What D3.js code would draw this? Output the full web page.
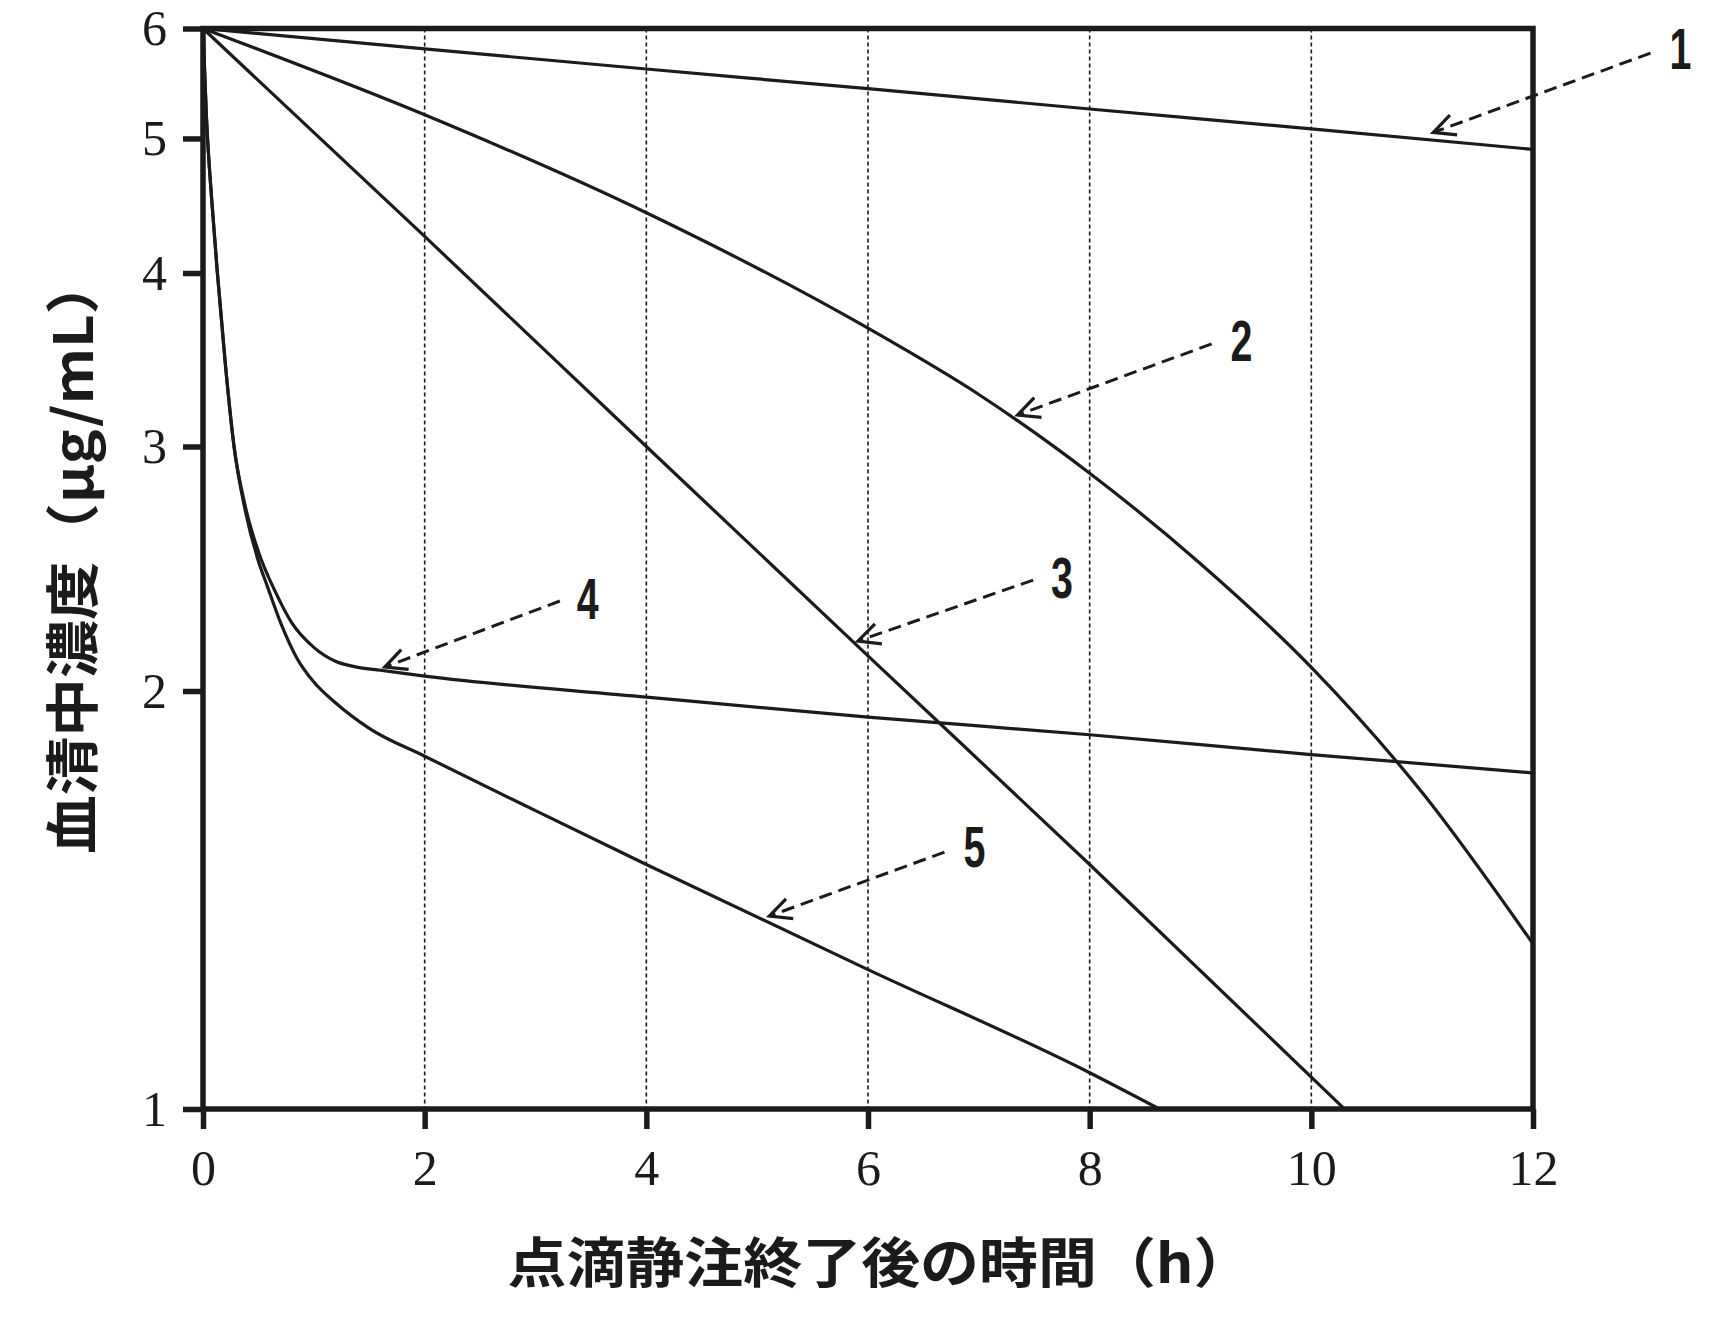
<!DOCTYPE html>
<html><head><meta charset="utf-8">
<script src="https://cdn.jsdelivr.net/npm/d3@7/dist/d3.min.js"></script>
<style>body{margin:0;background:#fff}</style>
</head><body><svg id="chart" width="1712" height="1320"></svg>
<script>
// ---- data (time h, concentration µg/mL) ----
const xTicks = [0, 2, 4, 6, 8, 10, 12];
const yTicks = [1, 2, 3, 4, 5, 6];
const gridTimes = [2, 4, 6, 8, 10];

const curve1T = [0, 2, 4, 6, 8, 10, 12];
const curve1C = [6, 5.80, 5.61, 5.43, 5.25, 5.08, 4.91];

const curve2T = [0, 2, 4, 6, 7, 8, 9, 10, 11, 12];
const curve2C = [6, 5.20, 4.42, 3.65, 3.27, 2.87, 2.47, 2.08, 1.69, 1.315];

const curve3T = [0, 2, 4, 6, 8, 10.3];
const curve3C = [6, 4.25, 3.00, 2.12, 1.50, 1.0];

const curve4T = [0, 0.03, 0.08, 0.13, 0.2, 0.28, 0.38, 0.5, 0.65, 0.8, 1.0, 1.2, 1.4, 1.6, 2, 4, 6, 8, 10, 12];
const curve4C = [6, 5.2, 4.5, 4.0, 3.45, 3.0, 2.72, 2.52, 2.36, 2.24, 2.15, 2.10, 2.08, 2.07, 2.05, 1.98, 1.915, 1.86, 1.80, 1.746];

const curve5T = [0, 0.03, 0.08, 0.13, 0.2, 0.28, 0.38, 0.5, 0.58, 0.7, 0.85, 1.0, 1.2, 1.5, 2, 3, 4, 6, 8, 8.63];
const curve5C = [6, 5.2, 4.5, 4.0, 3.45, 3.0, 2.7, 2.48, 2.38, 2.24, 2.11, 2.03, 1.96, 1.88, 1.795, 1.64, 1.50, 1.26, 1.062, 1.0];

// annotation labels (data coordinates)
const labelText = ["1", "2", "3", "4", "5"];
const labelT = [13.33, 9.37, 7.75, 3.47, 6.96];
const labelC = [5.81, 3.58, 2.416, 2.334, 1.547];
const tailT = [13.06, 9.10, 7.49, 3.22, 6.69];
const tailC = [5.76, 3.556, 2.404, 2.322, 1.531];
const tipT = [11.10, 7.35, 5.91, 1.64, 5.11];
const tipC = [5.05, 3.161, 2.173, 2.081, 1.377];

const xTitle = "点滴静注終了後の時間（h）";
const yTitle = "血清中濃度（μg/mL）";

// ---- drawing ----
const svg = d3.select("#chart");
svg.append("rect").attr("width", 1712).attr("height", 1320).attr("fill", "#fff");

const x = d3.scaleLinear().domain([0, 12]).range([203, 1533]);
const y = d3.scaleLog().domain([1, 6]).range([1109, 28.5]);
const ink = "#1b1b1b";

// dotted grid lines
svg.append("g").selectAll("line").data(gridTimes).join("line")
  .attr("x1", d => x(d)).attr("x2", d => x(d))
  .attr("y1", y(6)).attr("y2", y(1))
  .attr("stroke", ink).attr("stroke-width", 1.6).attr("stroke-dasharray", "4,3");

// curves
const series = [
  [curve1T, curve1C], [curve2T, curve2C], [curve3T, curve3C],
  [curve4T, curve4C], [curve5T, curve5C]
];
const line = d3.line().x(d => x(d[0])).y(d => y(d[1])).curve(d3.curveMonotoneX);
svg.append("g").selectAll("path").data(series).join("path")
  .attr("d", s => line(s[0].map((t, i) => [t, s[1][i]])))
  .attr("fill", "none").attr("stroke", ink).attr("stroke-width", 3.2)
  .attr("stroke-linejoin", "round");

// frame
svg.append("rect").attr("x", x(0)).attr("y", y(6))
  .attr("width", x(12) - x(0)).attr("height", y(1) - y(6))
  .attr("fill", "none").attr("stroke", ink).attr("stroke-width", 5.5);

// axes
const gx = svg.append("g").attr("transform", `translate(0,${y(1)})`)
  .call(d3.axisBottom(x).tickValues(xTicks).tickSize(20).tickPadding(20).tickFormat(d3.format("d")));
const gy = svg.append("g").attr("transform", `translate(${x(0)},0)`)
  .call(d3.axisLeft(y).tickValues(yTicks).tickSize(20).tickPadding(16).tickFormat(d3.format("d")));
[gx, gy].forEach(g => {
  g.select(".domain").remove();
  g.selectAll(".tick line").attr("stroke", ink).attr("stroke-width", 5.5);
  g.selectAll(".tick text").attr("fill", ink)
    .style("font-family", "'Liberation Serif', 'DejaVu Serif', serif").style("font-size", "50px");
});

// axis titles
svg.append("text").text(xTitle)
  .attr("x", 880).attr("y", 1283)
  .attr("text-anchor", "middle")
  .attr("textLength", 745).attr("lengthAdjust", "spacingAndGlyphs")
  .style("font-family", "'Noto Sans CJK JP', sans-serif").style("font-weight", 700)
  .style("font-size", "54px").attr("fill", ink);

svg.append("text").text(yTitle)
  .attr("transform", `translate(93,${(y(1) + y(6)) / 2 - 14}) rotate(-90)`)
  .attr("text-anchor", "middle")
  .attr("textLength", 598).attr("lengthAdjust", "spacingAndGlyphs")
  .style("font-family", "'Noto Sans CJK JP', sans-serif").style("font-weight", 700)
  .style("font-size", "54px").attr("fill", ink);

// annotations
const ann = svg.append("g");
labelText.forEach((lab, i) => {
  const x1 = x(tailT[i]), y1 = y(tailC[i]), x2 = x(tipT[i]), y2 = y(tipC[i]);
  ann.append("line").attr("x1", x1).attr("y1", y1).attr("x2", x2).attr("y2", y2)
    .attr("stroke", ink).attr("stroke-width", 3).attr("stroke-dasharray", "13,7");
  const a = Math.atan2(y1 - y2, x1 - x2), th = 26 * Math.PI / 180, L = 24;
  const p1 = [x2 + L * Math.cos(a + th), y2 + L * Math.sin(a + th)];
  const p2 = [x2 + L * Math.cos(a - th), y2 + L * Math.sin(a - th)];
  ann.append("path").attr("d", `M${p1[0]},${p1[1]}L${x2},${y2}L${p2[0]},${p2[1]}`)
    .attr("fill", "none").attr("stroke", ink).attr("stroke-width", 3.2)
    .attr("stroke-linejoin", "miter");
  ann.append("text").text(lab)
    .attr("transform", `translate(${x(labelT[i])},${y(labelC[i]) + 21}) scale(0.68,1)`)
    .attr("text-anchor", "middle")
    .style("font-family", "'Liberation Sans', Arial, sans-serif").style("font-weight", 700)
    .style("font-size", "58px").attr("fill", ink);
});
</script></body></html>
